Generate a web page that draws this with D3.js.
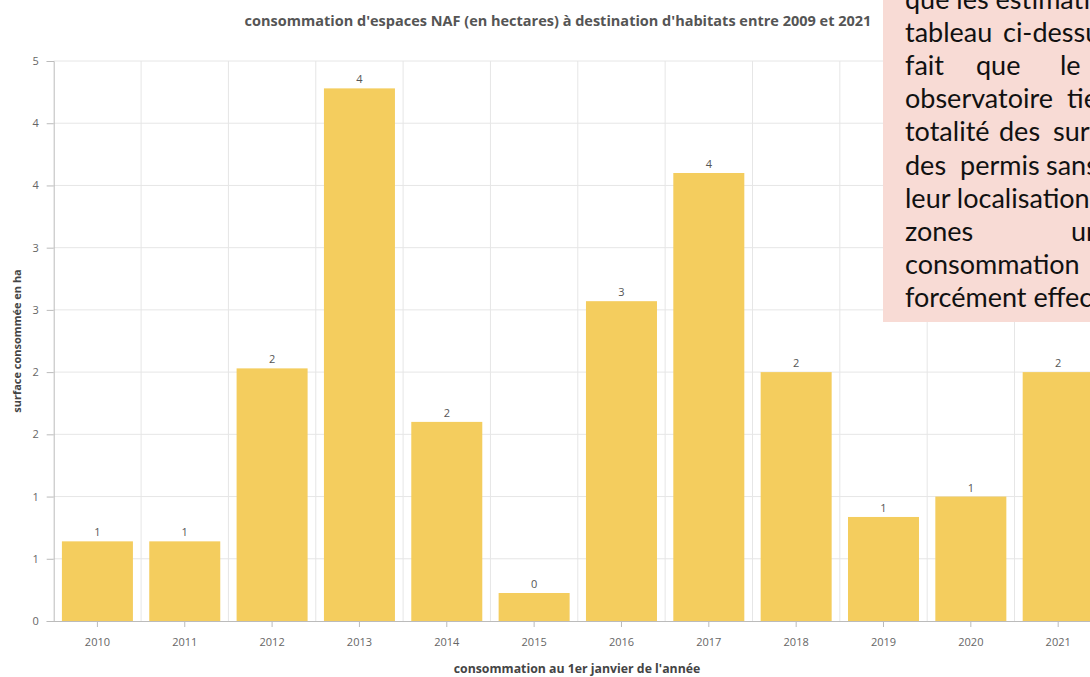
<!DOCTYPE html>
<html>
<head>
<meta charset="utf-8">
<script src="https://cdn.jsdelivr.net/npm/d3@7"></script>
<style>
  html, body { margin: 0; padding: 0; background: #fff; }
  svg { display: block; }
</style>
</head>
<body>
<svg id="chart" width="1090" height="677"></svg>
<script>
// ---- data ----
const years = ["2010","2011","2012","2013","2014","2015","2016","2017","2018","2019","2020","2021"];
const values = [0.64, 0.64, 2.03, 4.28, 1.60, 0.225, 2.57, 3.60, 2.00, 0.836, 1.00, 2.00];
const yTicks = [0, 0.5, 1, 1.5, 2, 2.5, 3, 3.5, 4, 4.5];
const titleText = "consommation d'espaces NAF (en hectares) à destination d'habitats entre 2009 et 2021";
const xTitle = "consommation au 1er janvier de l'année";
const yTitle = "surface consommée en ha";
const noteLines = [
  ["que les estimations"],
  ["tableau", "ci-dessus"],
  ["fait", "que", "le"],
  ["observatoire", "tient"],
  ["totalité", "des", "surfaces"],
  ["des", "permis", "sans"],
  ["leur localisation"],
  ["zones", "urbaines"],
  ["consommation"],
  ["forcément effective"]
];
const noteWordX = [
  [905],
  [905, 1003],
  [905, 976, 1060],
  [905, 1067],
  [905, 999, 1053],
  [905, 960, 1046],
  [905],
  [905, 1071],
  [905],
  [905]
];

// ---- layout ----
const svg = d3.select("#chart");
const plot = { left: 53.7, right: 1101.9, top: 61, bottom: 621 };

const x = d3.scaleBand().domain(years).range([plot.left, plot.right])
  .paddingInner(0.187).paddingOuter(0.094);
const y = d3.scaleLinear().domain([0, 4.5]).range([plot.bottom, plot.top]);

const font = "'Open Sans', Lato, sans-serif";
const noteFont = "Lato, 'Open Sans', sans-serif";

// horizontal grid
svg.append("g").selectAll("line").data(yTicks.slice(1)).join("line")
  .attr("x1", plot.left).attr("x2", plot.right)
  .attr("y1", d => y(d)).attr("y2", d => y(d))
  .attr("stroke", "#e6e6e6").attr("stroke-width", 1);

// vertical grid at category boundaries
const step = x.step();
const bounds = years.slice(1).map(d => x(d) - x.paddingInner() * step / 2);
svg.append("g").selectAll("line").data(bounds).join("line")
  .attr("x1", d => d).attr("x2", d => d)
  .attr("y1", plot.top).attr("y2", plot.bottom)
  .attr("stroke", "#e6e6e6").attr("stroke-width", 1);

// bars
svg.append("g").selectAll("rect").data(years).join("rect")
  .attr("x", d => x(d))
  .attr("width", x.bandwidth())
  .attr("y", (d, i) => y(values[i]))
  .attr("height", (d, i) => y(0) - y(values[i]))
  .attr("fill", "#f4cd5e");

// bar labels
svg.append("g").selectAll("text").data(years).join("text")
  .attr("x", d => x(d) + x.bandwidth() / 2)
  .attr("y", (d, i) => y(values[i]) - 5)
  .attr("text-anchor", "middle")
  .attr("font-family", font).attr("font-size", 11)
  .attr("fill", "#555")
  .text((d, i) => Math.round(values[i]));

// y axis
const yAxis = d3.axisLeft(y).tickValues(yTicks).tickFormat(d => Math.round(d)).tickSize(7).tickPadding(8);
const gy = svg.append("g").attr("transform", `translate(${plot.left},0)`).call(yAxis);
gy.select(".domain").attr("stroke", "#bbb");
gy.selectAll(".tick line").attr("stroke", "#bbb");
gy.selectAll(".tick text").attr("fill", "#666").attr("font-family", font).attr("font-size", 11);

// x axis
const xAxis = d3.axisBottom(x).tickSize(6).tickPadding(11);
const gx = svg.append("g").attr("transform", `translate(0,${plot.bottom})`).call(xAxis);
gx.select(".domain").attr("stroke", "#bbb").attr("d", `M${plot.left},0.5H${plot.right}`);
gx.selectAll(".tick line").attr("stroke", "#bbb");
gx.selectAll(".tick text").attr("fill", "#666").attr("font-family", font).attr("font-size", 11);

// titles
svg.append("text").attr("x", 558).attr("y", 26).attr("text-anchor", "middle")
  .attr("font-family", font).attr("font-weight", "bold").attr("font-size", 14.5)
  .attr("fill", "#555").text(titleText);

svg.append("text").attr("x", 577).attr("y", 673).attr("text-anchor", "middle")
  .attr("font-family", font).attr("font-weight", "bold").attr("font-size", 12.3)
  .attr("fill", "#444").text(xTitle);

svg.append("text").attr("transform", `translate(21,${(plot.top + plot.bottom) / 2}) rotate(-90)`)
  .attr("text-anchor", "middle")
  .attr("font-family", font).attr("font-weight", "bold").attr("font-size", 11)
  .attr("fill", "#444").text(yTitle);

// pink note box (overlapping, cut off at the right)
const note = svg.append("g");
note.append("rect").attr("x", 883).attr("y", 0).attr("width", 220).attr("height", 322)
  .attr("fill", "#f8dbd5");
const noteText = note.append("text").attr("font-family", noteFont).attr("font-size", 27).attr("fill", "#111");
noteLines.forEach((words, li) => {
  words.forEach((w, wi) => {
    noteText.append("tspan")
      .attr("x", noteWordX[li][wi])
      .attr("y", 9 + li * 33.1)
      .text(w);
  });
});
</script>
</body>
</html>
